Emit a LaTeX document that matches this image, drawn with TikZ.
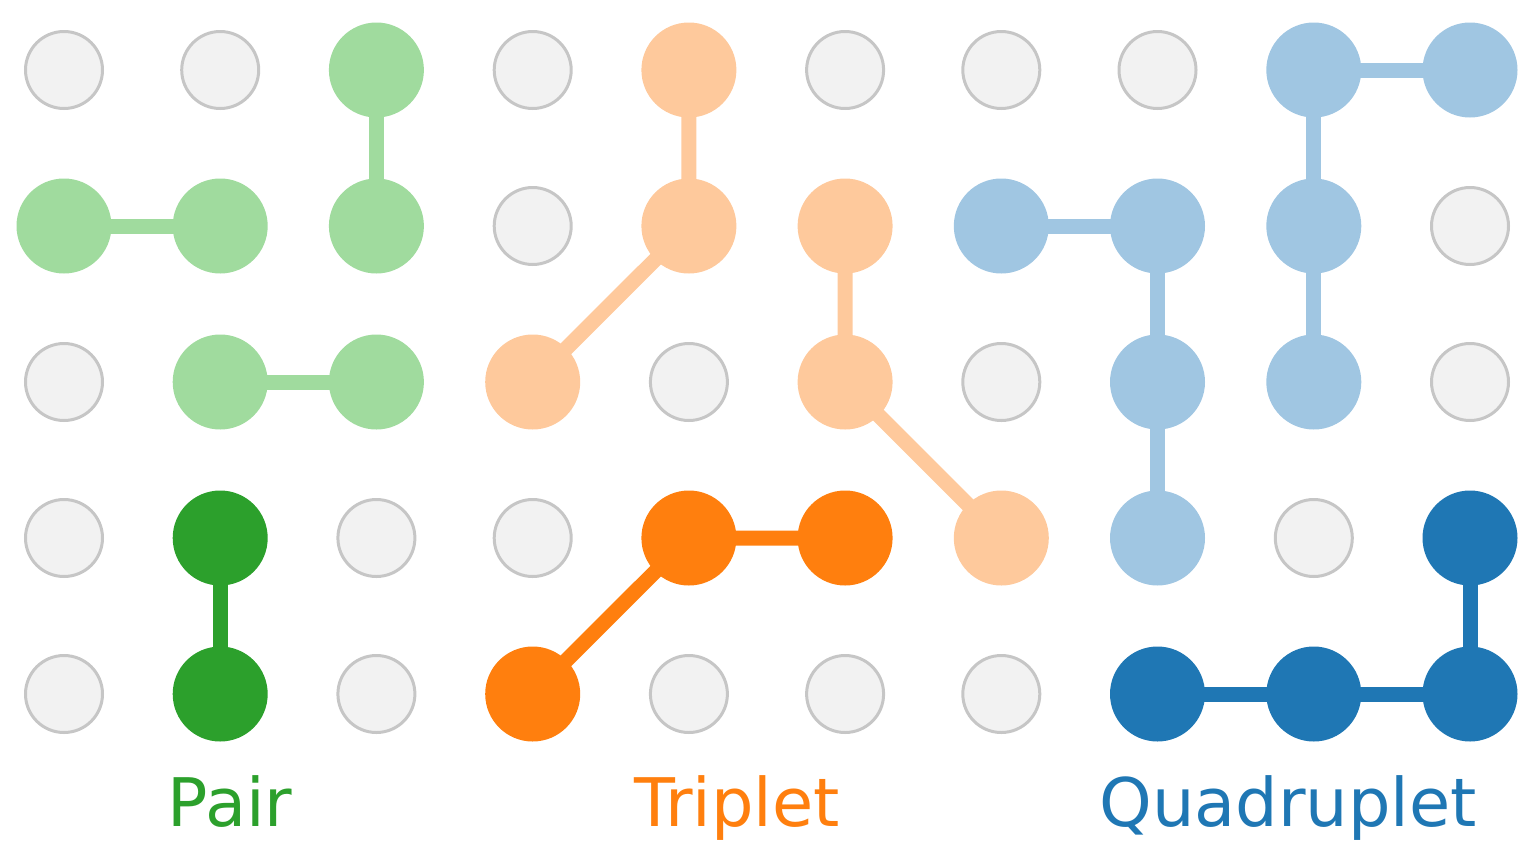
\documentclass[tikz,border=0pt]{standalone}
\usepackage{fontspec}
\setmainfont{DejaVu Sans}
\usetikzlibrary{backgrounds}

\definecolor{pairdark}{RGB}{44,160,44}
\definecolor{pairlight}{RGB}{160,219,158}
\definecolor{tripdark}{RGB}{255,127,14}
\definecolor{triplight}{RGB}{254,201,156}
\definecolor{quaddark}{RGB}{31,119,180}
\definecolor{quadlight}{RGB}{160,198,226}
\definecolor{emptyfill}{RGB}{242,242,242}
\definecolor{emptyline}{RGB}{198,198,198}

\tikzset{
  site/.style={circle,inner sep=0pt,minimum size=95pt,draw=none,fill=#1},
  empty/.style={circle,inner sep=0pt,minimum size=77pt,line width=3pt,draw=emptyline,fill=emptyfill},
  bond/.style={line width=15pt,draw=#1},
  tag/.style={anchor=base,inner sep=0pt,text=#1,font=\fontsize{67}{80}\selectfont}
}

\begin{document}
\begin{tikzpicture}[x=1pt,y=-1pt]
\path[use as bounding box] (0,0) rectangle (1536,857);
% empty lattice sites
\foreach \x/\y/\n in {64/70/n00,220.2/70/n10,532.7/70/n30,845.1/70/n50,1001.3/70/n60,1157.5/70/n70,
    532.7/226/n31,1470/226/n91,
    64/382/n02,688.9/382/n42,1001.3/382/n62,1470/382/n92,
    64/538/n03,376.4/538/n23,532.7/538/n33,1313.8/538/n83,
    64/694/n04,376.4/694/n24,688.9/694/n44,845.1/694/n54,1001.3/694/n64}
  \node[empty] (\n) at (\x,\y) {};
% pairs
\node[site=pairlight] (n20) at (376.4,70) {};
\node[site=pairlight] (n21) at (376.4,226) {};
\node[site=pairlight] (n01) at (64,226) {};
\node[site=pairlight] (n11) at (220.2,226) {};
\node[site=pairlight] (n12) at (220.2,382) {};
\node[site=pairlight] (n22) at (376.4,382) {};
\node[site=pairdark] (n13) at (220.2,538) {};
\node[site=pairdark] (n14) at (220.2,694) {};
% triplets
\node[site=triplight] (n40) at (688.9,70) {};
\node[site=triplight] (n41) at (688.9,226) {};
\node[site=triplight] (n32) at (532.7,382) {};
\node[site=triplight] (n51) at (845.1,226) {};
\node[site=triplight] (n52) at (845.1,382) {};
\node[site=triplight] (n63) at (1001.3,538) {};
\node[site=tripdark] (n34) at (532.7,694) {};
\node[site=tripdark] (n43) at (688.9,538) {};
\node[site=tripdark] (n53) at (845.1,538) {};
% quadruplets
\node[site=quadlight] (n61) at (1001.3,226) {};
\node[site=quadlight] (n71) at (1157.5,226) {};
\node[site=quadlight] (n72) at (1157.5,382) {};
\node[site=quadlight] (n73) at (1157.5,538) {};
\node[site=quadlight] (n90) at (1470,70) {};
\node[site=quadlight] (n80) at (1313.8,70) {};
\node[site=quadlight] (n81) at (1313.8,226) {};
\node[site=quadlight] (n82) at (1313.8,382) {};
\node[site=quaddark] (n74) at (1157.5,694) {};
\node[site=quaddark] (n84) at (1313.8,694) {};
\node[site=quaddark] (n94) at (1470,694) {};
\node[site=quaddark] (n93) at (1470,538) {};
% bonds
\begin{scope}[on background layer]
\draw[bond=pairlight] (n20.center) -- (n21.center);
\draw[bond=pairlight] (n01.center) -- (n11.center);
\draw[bond=pairlight] (n12.center) -- (n22.center);
\draw[bond=pairdark] (n13.center) -- (n14.center);
\draw[bond=triplight] (n40.center) -- (n41.center) -- (n32.center);
\draw[bond=triplight] (n51.center) -- (n52.center) -- (n63.center);
\draw[bond=tripdark] (n34.center) -- (n43.center) -- (n53.center);
\draw[bond=quadlight] (n61.center) -- (n71.center) -- (n72.center) -- (n73.center);
\draw[bond=quadlight] (n90.center) -- (n80.center) -- (n81.center) -- (n82.center);
\draw[bond=quaddark] (n74.center) -- (n84.center) -- (n94.center) -- (n93.center);
\end{scope}
% labels
\node[tag=pairdark] (pair) at (230,826) {Pair};
\node[tag=tripdark] (triplet) at (737,826) {Triplet};
\node[tag=quaddark] (quadruplet) at (1288,826) {Quadruplet};
\end{tikzpicture}
\end{document}
